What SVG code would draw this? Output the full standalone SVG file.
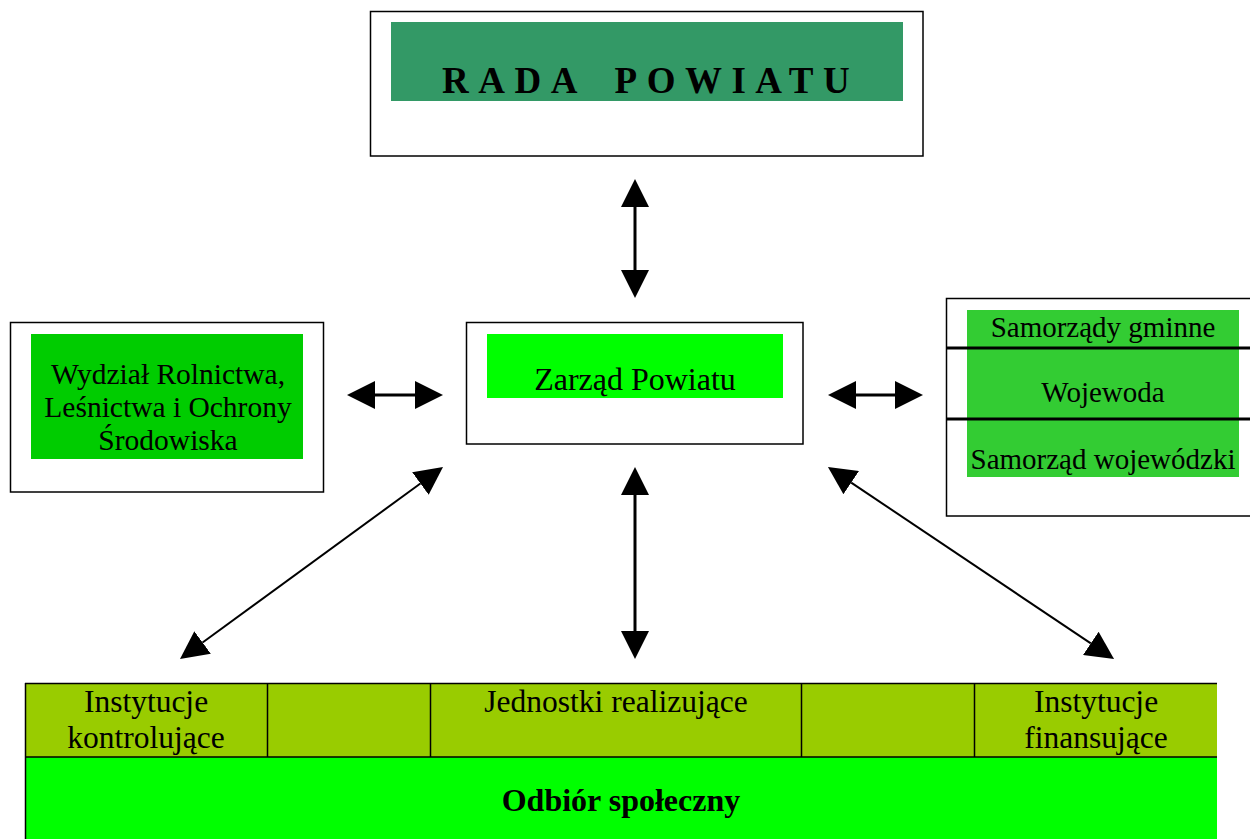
<svg xmlns="http://www.w3.org/2000/svg" width="1250" height="839" viewBox="0 0 1250 839">
<style>
.t{font-family:"Liberation Serif","Times New Roman",serif;fill:#000;text-anchor:middle}
.box{fill:#fff;stroke:#000;stroke-width:1.5}
.ln{stroke:#000;fill:none}
.thick{stroke-width:3}
.thin{stroke-width:2}
</style>
<defs>
<marker id="ah" viewBox="0 0 28 28" refX="0" refY="14" markerWidth="28" markerHeight="28" markerUnits="userSpaceOnUse" orient="auto-start-reverse">
<path d="M0,0 L28,14 L0,28 Z" fill="#000"/>
</marker>
</defs>
<rect width="1250" height="839" fill="#fff"/>
<g id="rada">
<rect class="box" x="370.5" y="11.5" width="552.5" height="144.5"/>
<rect x="391" y="22" width="512" height="79" fill="#339966"/>
<text class="t" x="442" y="93" style="text-anchor:start;font-weight:bold;font-size:37px;letter-spacing:9.5px;word-spacing:11px">RADA POWIATU</text>
</g>
<g id="zarzad">
<rect class="box" x="466.5" y="322.5" width="336.5" height="121.5"/>
<rect x="487" y="334" width="296" height="64" fill="#00ff00"/>
<text class="t" x="635" y="390" font-size="32">Zarząd Powiatu</text>
</g>
<g id="wydzial">
<rect class="box" x="10.5" y="322.5" width="313" height="169.5"/>
<rect x="31" y="334" width="272" height="125" fill="#00cc00"/>
<text class="t" x="168" y="384" font-size="29.5">Wydział Rolnictwa,</text>
<text class="t" x="168" y="417" font-size="29.5">Leśnictwa i Ochrony</text>
<text class="t" x="168" y="450" font-size="29.5">Środowiska</text>
</g>
<g id="samorzady">
<rect class="box" x="946.5" y="298.5" width="320" height="217.5"/>
<rect x="967" y="310" width="272" height="167" fill="#33cc33"/>
<line class="ln thick" x1="946" y1="348" x2="1250" y2="348"/>
<line class="ln thick" x1="946" y1="419" x2="1250" y2="419"/>
<text class="t" x="1103" y="337" font-size="29">Samorządy gminne</text>
<text class="t" x="1103" y="402" font-size="29">Wojewoda</text>
<text class="t" x="1103" y="469" font-size="29">Samorząd wojewódzki</text>
</g>
<g id="tabela">
<rect x="25" y="683" width="1192" height="74" fill="#99cc00"/>
<rect x="25" y="757" width="1192" height="90" fill="#00ff00"/>
<path class="ln" stroke-width="1.5" d="M25,683.5 H1217 M25,757 H1217 M25.5,683 V839 M267.5,683 V757 M430.5,683 V757 M801.5,683 V757 M974.5,683 V757"/>
<text class="t" x="146" y="712" font-size="31.5">Instytucje</text>
<text class="t" x="146" y="748" font-size="31.5">kontrolujące</text>
<text class="t" x="616" y="712" font-size="31.5">Jednostki realizujące</text>
<text class="t" x="1096" y="712" font-size="31.5">Instytucje</text>
<text class="t" x="1096" y="748" font-size="31.5">finansujące</text>
<text class="t" x="621" y="811" font-size="32" font-weight="bold">Odbiór społeczny</text>
</g>
<g id="connectors">
<line class="ln thick" x1="635" y1="207" x2="635" y2="270" marker-start="url(#ah)" marker-end="url(#ah)"/>
<line class="ln thick" x1="375" y1="395" x2="415" y2="395" marker-start="url(#ah)" marker-end="url(#ah)"/>
<line class="ln thick" x1="856" y1="395" x2="895" y2="395" marker-start="url(#ah)" marker-end="url(#ah)"/>
<line class="ln thick" x1="635" y1="495" x2="635" y2="631" marker-start="url(#ah)" marker-end="url(#ah)"/>
<line class="ln thin" x1="420.4" y1="483.5" x2="202.6" y2="642.5" marker-start="url(#ah)" marker-end="url(#ah)"/>
<line class="ln thin" x1="851.2" y1="482.6" x2="1090.8" y2="643.4" marker-start="url(#ah)" marker-end="url(#ah)"/>
</g>
</svg>
